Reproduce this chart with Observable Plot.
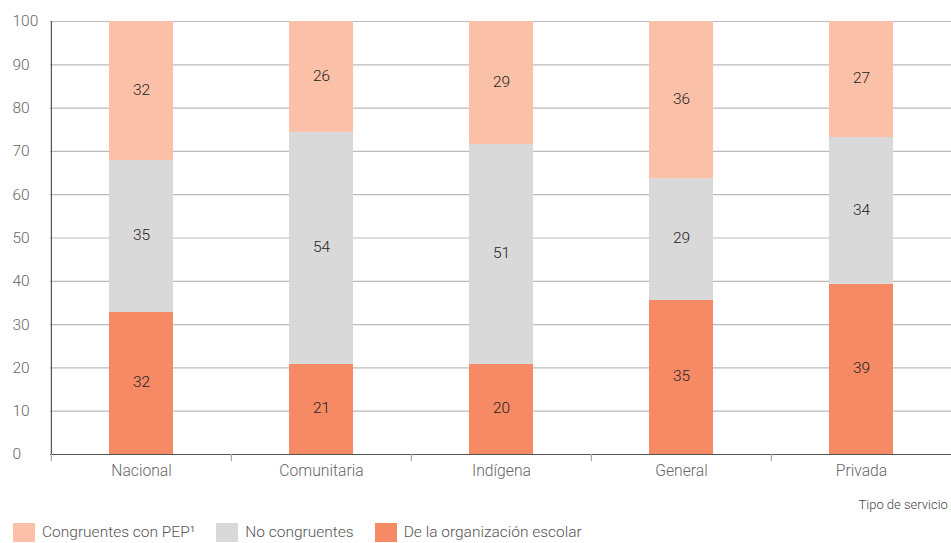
<!DOCTYPE html>
<html><head><meta charset="utf-8">
<script src="https://cdn.jsdelivr.net/npm/d3@7"></script>
<script src="https://cdn.jsdelivr.net/npm/@observablehq/plot@0.6"></script>
<style>
body{margin:0;background:#fff;font-family:Roboto,sans-serif;}
#legend{display:flex;align-items:center;margin-top:8px;font-family:Roboto,sans-serif;font-weight:300;font-size:15.5px;line-height:19px;color:#555;}
#legend .it{display:flex;align-items:center;margin-right:21px;}
#legend .sw{width:22px;height:19px;margin-right:7px;}
</style></head>
<body>
<div id="chart"></div>
<div id="legend"></div>
<script>
const categories = ["Nacional","Comunitaria","Indígena","General","Privada"];
const series = ["De la organización escolar","No congruentes","Congruentes con PEP¹"];
const organizacion = [32.8, 20.8, 20.8, 35.6, 39.3];
const noCongruentes = [35.1, 53.6, 50.8, 28.1, 33.9];
const congruentes = [32.1, 25.6, 28.4, 36.3, 26.8];
const labelsOrganizacion = [32, 21, 20, 35, 39];
const labelsNoCongruentes = [35, 54, 51, 29, 34];
const labelsCongruentes = [32, 26, 29, 36, 27];
const yTicks = [0,10,20,30,40,50,60,70,80,90,100];
const colors = ["#F58A65","#D9D9D9","#FBC1A8"];

const rows = [];
categories.forEach((c,i)=>{
  rows.push({cat:c, serie:series[0], value:organizacion[i], label:labelsOrganizacion[i]});
  rows.push({cat:c, serie:series[1], value:noCongruentes[i], label:labelsNoCongruentes[i]});
  rows.push({cat:c, serie:series[2], value:congruentes[i], label:labelsCongruentes[i]});
});

const W = 951, mL = 50, mR = 0;
const step = (W - mL - mR) / categories.length;

const plot = Plot.plot({
  width: W, height: 515,
  marginLeft: mL, marginRight: mR, marginTop: 21, marginBottom: 61,
  style: {fontFamily: "Roboto, sans-serif", fontSize: "15px", fontWeight: 300, color: "#666", overflow: "visible"},
  x: {domain: categories, paddingInner: 0.645, paddingOuter: 0.3225, label: null},
  y: {domain: [0,100], label: null},
  color: {domain: series, range: colors},
  marks: [
    Plot.gridY(yTicks, {stroke: "#bbb", strokeOpacity: 1, strokeWidth: 1.2}),
    Plot.barY(rows, Plot.stackY({x: "cat", y: "value", fill: "serie", z: "serie", order: series})),
    Plot.text(rows, Plot.stackY({x: "cat", y: "value", z: "serie", text: "label", order: series, fill: "#222", fontSize: 15.5, fontWeight: 300, dy: -1})),
    Plot.axisY(yTicks, {tickSize: 0, tickPadding: 38, textAnchor: "start", fill: "#666", fontSize: 15.5}),
    Plot.axisX({tickSize: 0, tickPadding: 10, fill: "#666", fontSize: 15.7}),
    Plot.ruleY([0], {stroke: "#555", strokeWidth: 1.2}),
    Plot.ruleX([categories[0]], {x: d=>d, y1: 0, y2: 100, dx: -step/2, stroke: "#555", strokeWidth: 1.2}),
    Plot.ruleX(categories, {x: d=>d, y1: 0, y2: -1.7, dx: -step/2, stroke: "#aaa", strokeWidth: 1.2}),
    Plot.text(["Tipo de servicio"], {frameAnchor: "bottom-right", textAnchor: "start", dx: -93, dy: 54, fill: "#444", fontSize: 13, fontWeight: 300})
  ]
});
document.getElementById("chart").appendChild(plot);

const legendItems = [series[2], series[1], series[0]];
const legendColors = [colors[2], colors[1], colors[0]];
const lg = document.getElementById("legend");
lg.style.marginLeft = "13px";
legendItems.forEach((s,i)=>{
  const it = document.createElement("div"); it.className = "it";
  const sw = document.createElement("div"); sw.className = "sw"; sw.style.background = legendColors[i];
  const t = document.createElement("span"); t.textContent = s;
  it.appendChild(sw); it.appendChild(t); lg.appendChild(it);
});
</script>
</body></html>
